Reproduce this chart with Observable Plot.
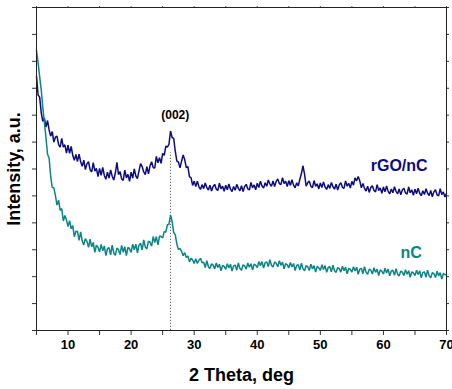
<!DOCTYPE html>
<html><head><meta charset="utf-8">
<script src="https://cdn.jsdelivr.net/npm/d3@7"></script>
<script src="https://cdn.jsdelivr.net/npm/@observablehq/plot@0.6"></script>
<style>body{margin:0;background:#fff}</style>
</head><body><div id="chart"></div>
<script>
// 2θ grid: 5° to 70° every 0.25°
const thetaStart = 5, thetaStep = 0.25;

const rgoNc = [
944,875,867,809,777,789,756,780,745,722,739,700,718,722,691,681,714,681,690,659,
689,658,684,650,632,654,628,655,627,610,633,598,620,627,597,589,624,592,602,572,
602,576,606,576,562,588,566,597,573,559,585,625,579,590,563,558,596,567,580,554,
588,566,600,574,564,593,620,609,589,579,609,582,612,627,605,604,647,623,642,621,
658,651,685,681,692,741,717,714,666,629,626,604,629,652,634,605,609,571,568,539,
555,535,555,534,524,542,527,548,531,522,540,518,535,543,525,520,547,526,536,517,
540,523,544,525,516,535,521,543,528,519,538,516,535,543,526,522,550,530,541,523,
547,531,555,537,529,549,536,559,544,536,556,535,554,563,546,542,568,546,555,535,
557,539,560,540,530,549,537,562,583,612,580,536,549,555,536,531,557,536,545,526,
548,531,552,533,524,542,528,550,534,525,544,522,541,549,532,528,556,536,547,529,
554,540,567,556,572,556,530,546,528,518,536,513,531,538,520,515,542,520,530,510,
533,515,537,517,508,526,512,534,517,508,526,504,522,529,511,507,533,512,522,502,
525,508,529,510,501,519,505,527,510,501,520,497,515,523,504,500,527,505,515,496,
510];

const nc = [
1040,995,943,895,828,773,716,655,641,572,531,530,501,466,484,446,453,407,427,411,
386,408,378,390,348,369,368,335,366,332,318,341,331,309,339,311,327,290,317,309,
292,320,296,314,278,304,308,281,317,288,279,306,300,282,316,291,311,278,309,304,
290,321,300,321,288,317,324,299,337,310,303,332,328,313,349,327,349,318,351,349,
344,367,366,393,395,429,406,364,356,321,301,305,294,278,289,271,277,255,268,262,
249,267,249,261,268,252,254,234,259,237,230,248,243,229,251,234,246,222,242,238,
227,248,232,246,221,240,243,224,251,230,224,244,240,228,251,235,248,225,246,243,
234,256,241,256,232,252,255,237,263,242,236,255,250,237,259,242,254,229,249,244,
233,253,236,249,223,242,244,225,250,229,222,241,237,223,246,229,241,217,238,233,
223,244,227,241,216,234,237,218,243,222,216,234,230,217,239,222,235,211,231,227,
217,237,221,235,209,228,231,211,237,216,209,228,224,210,233,216,228,204,225,220,
210,231,214,228,203,221,224,205,230,209,203,221,217,204,226,209,222,198,218,214,
204,224,208,222,196,215,218,198,224,203,196,215,211,197,220,203,215,191,212,207,
208];

const seriesNames = ["rGO/nC", "nC"];
const seriesColors = ["#0c0c82", "#0b8585"];
const seriesLabelX = [62.5, 64.4];
const seriesLabelY = [613, 290];

const xTicks = [5,10,15,20,25,30,35,40,45,50,55,60,65,70];
const xTickLabels = [10,20,30,40,50,60,70];
const yTicks = [0,100,200,300,400,500,600,700,800,900,1000,1100,1200];

const peakTheta = 26.25;
const peakLineTop = 660;
const peakLabel = "(002)";
const peakLabelX = 27.0;
const peakLabelY = 800;

const theta = rgoNc.map((_, i) => thetaStart + i * thetaStep);
const rows = [];
theta.forEach((t, i) => {
  rows.push({theta: t, intensity: rgoNc[i], series: seriesNames[0]});
  rows.push({theta: t, intensity: nc[i], series: seriesNames[1]});
});
const labelRows = seriesNames.map((s, i) => ({series: s, x: seriesLabelX[i], y: seriesLabelY[i], color: seriesColors[i]}));

const font = "'Liberation Sans', Arial, sans-serif";

const chart = Plot.plot({
  width: 452,
  height: 389,
  marginLeft: 36,
  marginRight: 6,
  marginTop: 7,
  marginBottom: 59,
  style: {fontFamily: font, background: "#fff", color: "#000"},
  x: {domain: [5, 70]},
  y: {domain: [0, 1200]},
  color: {domain: seriesNames, range: seriesColors},
  marks: [
    Plot.ruleX([peakTheta], {y1: 0, y2: peakLineTop, stroke: "#555", strokeWidth: 0.9, strokeDasharray: "1.2,1.8"}),
    Plot.line(rows, {x: "theta", y: "intensity", z: "series", stroke: "series", strokeWidth: 1.5, strokeLinejoin: "miter"}),
    Plot.text([peakLabel], {x: () => peakLabelX, y: () => peakLabelY, text: d => d, fontSize: 12, fontWeight: "bold", fill: "#000"}),
    Plot.text(labelRows, {x: "x", y: "y", text: "series", fill: "color", fontSize: 16, fontWeight: "bold"}),
    // bottom axis
    Plot.axisX({ticks: xTicks, tickSize: 5, tickPadding: 4, tickFormat: d => xTickLabels.includes(d) ? String(d) : "", fontSize: 13, fontWeight: "bold", label: null, stroke: "#333"}),
    Plot.axisX({ticks: [], label: "2 Theta, deg", labelAnchor: "center", labelArrow: "none", labelOffset: 50, fontSize: 18, fontWeight: "bold"}),
    // top ticks
    Plot.axisX({anchor: "top", ticks: xTicks, tickSize: 2, tickFormat: () => "", label: null, stroke: "#555"}),
    // left axis
    Plot.axisY({ticks: yTicks, tickSize: 4, tickFormat: () => "", label: null, stroke: "#333"}),
    Plot.axisY({ticks: [], label: "Intensity, a.u.", labelAnchor: "center", labelArrow: "none", labelOffset: 29, dy: -22, fontSize: 18, fontWeight: "bold"}),
    // right ticks
    Plot.axisY({anchor: "right", ticks: yTicks, tickSize: 2, tickFormat: () => "", label: null, stroke: "#333"}),
    Plot.frame({stroke: "#222", strokeWidth: 1})
  ]
});
document.getElementById("chart").appendChild(chart);
</script>
</body></html>
